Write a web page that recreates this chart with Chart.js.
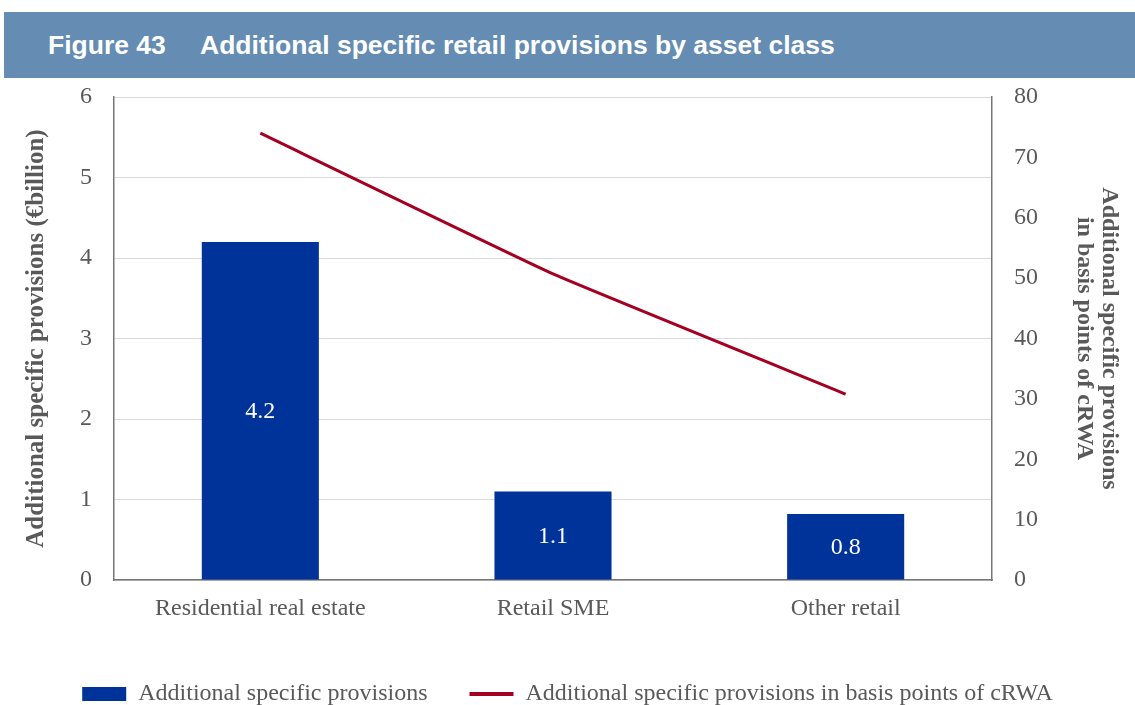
<!DOCTYPE html>
<html>
<head>
<meta charset="utf-8">
<script src="https://cdn.jsdelivr.net/npm/chart.js@4.4.0/dist/chart.umd.min.js"></script>
<style>
  body { margin: 0; background: #fff; width: 1135px; height: 705px; overflow: hidden; position: relative; }
  .fig-title {
    position: absolute; left: 4px; top: 12px; width: 1131px; height: 66px;
    background: #658cb2; color: #fff;
    font-family: "Liberation Sans", Arial, sans-serif; font-weight: bold; font-size: 26.5px;
    line-height: 66px; white-space: nowrap;
  }
  .fig-title .num { position: absolute; left: 44px; }
  .fig-title .txt { position: absolute; left: 196px; }
  /* a bit taller than the page: the legend is cut off at the bottom like in the figure */
  .chart-box { position: absolute; left: 0; top: 78px; width: 1135px; height: 638px; }
</style>
</head>
<body>
<div class="fig-title"><span class="num">Figure 43</span><span class="txt">Additional specific retail provisions by asset class</span></div>
<div class="chart-box"><canvas id="provisionChart"></canvas></div>
<script>
// data
var categories   = ['Residential real estate', 'Retail SME', 'Other retail'];
var provisionsBn = [4.2, 1.1, 0.82];
var provisionsBp = [74, 50.7, 30.8];
var leftTicks    = [0, 1, 2, 3, 4, 5, 6];
var rightTicks   = [0, 10, 20, 30, 40, 50, 60, 70, 80];

var serif    = '"Liberation Serif", "Times New Roman", serif';
var textGrey = '#595959';
var barBlue  = '#003399';
var lineRed  = '#a50021';

// white value labels in the middle of the bars
var barLabels = {
  id: 'barLabels',
  afterDatasetsDraw: function(chart) {
    var ctx = chart.ctx;
    chart.data.datasets.forEach(function(ds, di) {
      if (ds.type !== 'bar') return;
      var meta = chart.getDatasetMeta(di);
      ctx.save();
      ctx.fillStyle = '#fff';
      ctx.font = '24px ' + serif;
      ctx.textAlign = 'center';
      ctx.textBaseline = 'middle';
      meta.data.forEach(function(bar, i) {
        var p = bar.getProps(['x', 'y', 'base'], true);
        ctx.fillText(ds.data[i].toFixed(1), p.x, (p.y + p.base) / 2 + 1);
      });
      ctx.restore();
    });
  }
};

var provisionCanvas = document.getElementById('provisionChart').getContext('2d');
var provisionChart = new Chart(provisionCanvas, {
  data: {
    labels: categories,
    datasets: [
      {
        type: 'line',
        label: 'Additional specific provisions in basis points of cRWA',
        data: provisionsBp,
        yAxisID: 'yRight',
        borderColor: lineRed,
        backgroundColor: lineRed,
        borderWidth: 3,
        pointRadius: 0,
        tension: 0.1,
        order: 0
      },
      {
        type: 'bar',
        label: 'Additional specific provisions',
        data: provisionsBn,
        yAxisID: 'yLeft',
        backgroundColor: barBlue,
        categoryPercentage: 1,
        barPercentage: 0.4,
        order: 1
      }
    ]
  },
  options: {
    responsive: true,
    maintainAspectRatio: false,
    animation: false,
    layout: { padding: { top: 19, left: 0, right: 0, bottom: 0 } },
    plugins: {
      tooltip: { enabled: false },
      legend: {
        position: 'bottom',
        reverse: true,
        labels: {
          font: { family: serif, size: 24 },
          color: textGrey,
          usePointStyle: true,
          pointStyleWidth: 44,
          boxHeight: 14,
          padding: 42,
          generateLabels: function(chart) {
            return chart.data.datasets.map(function(ds, i) {
              var isLine = ds.type === 'line';
              return {
                text: ds.label,
                datasetIndex: i,
                fillStyle: ds.backgroundColor,
                strokeStyle: ds.borderColor || ds.backgroundColor,
                lineWidth: isLine ? 4 : 0,
                pointStyle: isLine ? 'line' : 'rect',
                fontColor: textGrey
              };
            });
          }
        }
      }
    },
    scales: {
      x: {
        grid: { display: false, drawTicks: false },
        border: { color: '#767676', width: 1.5 },
        ticks: { font: { family: serif, size: 24 }, color: textGrey, padding: 14 },
        afterFit: function(scale) { scale.height = 60; }
      },
      yLeft: {
        position: 'left',
        min: 0, max: 6,
        afterBuildTicks: function(axis) { axis.ticks = leftTicks.map(function(v) { return { value: v }; }); },
        afterFit: function(scale) { scale.width = 114; scale.paddingTop = 0; scale.paddingBottom = 0; },
        grid: { color: '#d9d9d9', drawTicks: false },
        border: { color: '#767676', width: 1.5 },
        ticks: { font: { family: serif, size: 24 }, color: textGrey, padding: 22 },
        title: {
          display: true,
          text: 'Additional specific provisions (€billion)',
          font: { family: serif, size: 25, weight: 'bold', lineHeight: 1.2 },
          color: textGrey,
          padding: { top: 22, bottom: 0 }
        }
      },
      yRight: {
        position: 'right',
        min: 0, max: 80,
        afterBuildTicks: function(axis) { axis.ticks = rightTicks.map(function(v) { return { value: v }; }); },
        afterFit: function(scale) { scale.width = 143; scale.paddingTop = 0; scale.paddingBottom = 0; },
        grid: { display: false, drawTicks: false },
        border: { color: '#767676', width: 1.5 },
        ticks: { font: { family: serif, size: 24 }, color: textGrey, padding: 22 },
        title: {
          display: true,
          text: ['Additional specific provisions', 'in basis points of cRWA'],
          font: { family: serif, size: 24, weight: 'bold', lineHeight: 1.05 },
          color: textGrey,
          padding: { top: 13, bottom: 0 }
        }
      }
    }
  },
  plugins: [barLabels]
});
</script>
</body>
</html>
